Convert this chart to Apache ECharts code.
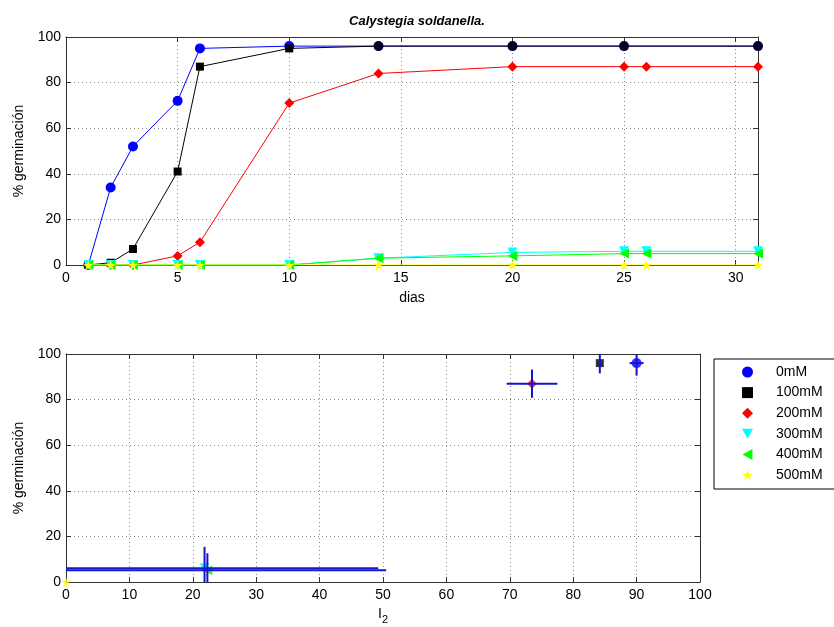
<!DOCTYPE html>
<html><head><meta charset="utf-8">
<script src="https://cdn.jsdelivr.net/npm/echarts@6/dist/echarts.min.js"></script>
<style>html,body{margin:0;padding:0;background:#fff}#c{width:834px;height:627px}</style>
</head><body><div id="c"></div>
<script>
// ---- data ----
var titleText = 'Calystegia soldanella.';
var names = ['0mM','100mM','200mM','300mM','400mM','500mM'];
var daysShort = [1,2,3,5,6,10,14,20,25,31];
var daysLong  = [1,2,3,5,6,10,14,20,25,26,31];
var g0mM   = [0,34,52,72,95,96,96,96,96,96];
var g100mM = [0,1,7,41,87,95,96,96,96,96];
var g200mM = [0,0,0,4,10,71,84,87,87,87,87];
var g300mM = [0,0,0,0,0,0,3,5.5,6,6,6];
var g400mM = [0,0,0,0,0,0,3,4,5,5,5];
var g500mM = [0,0,0,0,0,0,0,0,0,0,0];
// bottom panel: I2 vs final germination with error bars
var l2Vals   = [90, 84.2, 73.5, 21.85, 22.3, 0];
var germVals = [96, 96, 87, 6, 5.2, 0];
var l2Err    = [1.1, 0.3, 4, 27.4, 28.2, 0];
var germErr  = [5.5, 4.5, 6.2, 9.4, 7.4, 0];

// ---- styles ----
var colors = ['#0000ff','#000000','#ff0000','#00ffff','#00ff00','#ffff00'];
var starPath = 'path://M5,0 L6.2,3.6 L10,3.6 L6.9,5.9 L8.1,9.5 L5,7.3 L1.9,9.5 L3.1,5.9 L0,3.6 L3.8,3.6 Z';
var downTri = 'path://M0,0 L10,0 L5,9 Z';
var leftTri = 'path://M9,0 L9,10 L0,5 Z';
var symbols = ['circle','rect', 'diamond', downTri, leftTri, starPath];
var sizes = [10, 8, 10, 10, 10, 10];
var font = 'Liberation Sans, Arial, sans-serif';
var axisCol = '#333';

var chart = echarts.init(document.getElementById('c'));

function pairs(days, vals){ return days.map(function(d,i){ return [d, vals[i]]; }); }
var topVals = [g0mM,g100mM,g200mM,g300mM,g400mM,g500mM];
var topDays = [daysShort,daysShort,daysLong,daysLong,daysLong,daysLong];

var series = [];
for (var s=0;s<6;s++){
  var d = pairs(topDays[s], topVals[s]).map(function(p, i){
    var o = {value:p};
    if (s===0 && g100mM[i]===g0mM[i] && p[0]>=14){ o.itemStyle = {color:'#000033'}; }
    if (s===1 && g100mM[i]===g0mM[i] && p[0]>=14){ o.symbolSize = 0; }
    return o;
  });
  series.push({
    name:names[s], type:'line', xAxisIndex:0, yAxisIndex:0,
    data:d, symbol:symbols[s], symbolSize:sizes[s],
    lineStyle:{color:colors[s], width:1}, itemStyle:{color:colors[s]},
    animation:false, z:2+s
  });
}
for (var s2=0;s2<6;s2++){
  series.push({
    name:names[s2], type:'scatter', xAxisIndex:2, yAxisIndex:2,
    data:[[l2Vals[s2], germVals[s2]]], symbol:symbols[s2], symbolSize:sizes[s2],
    itemStyle:{color:colors[s2]}, animation:false, z:2+s2
  });
}
var errData = l2Vals.map(function(x,i){ return [x, germVals[i], l2Err[i], germErr[i]]; });
series.push({
  type:'custom', xAxisIndex:2, yAxisIndex:2, z:20, animation:false,
  data: errData.filter(function(e){ return e[2]>0 || e[3]>0; }),
  renderItem:function(params, api){
    var x=api.value(0), y=api.value(1), ex=api.value(2), ey=api.value(3);
    function cl(v){ return Math.max(0, Math.min(100, v)); }
    var a=api.coord([cl(x-ex), y]), b=api.coord([cl(x+ex), y]);
    var c=api.coord([x, cl(y-ey)]), d=api.coord([x, cl(y+ey)]);
    var st={stroke:'#1515d0', lineWidth:2};
    return {type:'group', children:[
      {type:'line', shape:{x1:a[0],y1:a[1],x2:b[0],y2:b[1]}, style:st},
      {type:'line', shape:{x1:c[0],y1:c[1],x2:d[0],y2:d[1]}, style:st}
    ]};
  }
});

function xAx(gi, max, name, nameGap, extra){
  return Object.assign({
    type:'value', gridIndex:gi, min:0, max:max, interval: (max===31?5:10),
    name:name, nameLocation:'middle', nameGap:nameGap,
    nameTextStyle:{fontFamily:font, fontSize:14, color:'#000'},
    axisLine:{show:true, onZero:false, lineStyle:{color:axisCol, width:1}},
    axisTick:{show:true, inside:true, length:5, lineStyle:{color:axisCol}},
    axisLabel:{fontFamily:font, fontSize:14, color:'#000', margin:6,
      showMaxLabel: max===100},
    splitLine:{show:true, lineStyle:{color:'#8a8a8a', type:[1,3], width:1}}
  }, extra||{});
}
function yAx(gi){
  return {
    type:'value', gridIndex:gi, min:0, max:100, interval:20,
    name:'% germinación', nameLocation:'middle', nameGap:40,
    nameTextStyle:{fontFamily:font, fontSize:14, color:'#000'},
    axisLine:{show:true, onZero:false, lineStyle:{color:axisCol, width:1}},
    axisTick:{show:true, inside:true, length:5, lineStyle:{color:axisCol}},
    axisLabel:{fontFamily:font, fontSize:14, color:'#000', margin:5},
    splitLine:{show:true, lineStyle:{color:'#8a8a8a', type:[1,3], width:1}}
  };
}
function mirrorX(gi, max){
  return {type:'value', gridIndex:gi, position:'top', min:0, max:max, interval:(max===31?5:10),
    axisLine:{show:true, onZero:false, lineStyle:{color:axisCol}},
    axisTick:{show:true, inside:true, length:5, lineStyle:{color:axisCol}},
    axisLabel:{show:false}, splitLine:{show:false}};
}
function mirrorY(gi){
  return {type:'value', gridIndex:gi, position:'right', min:0, max:100, interval:20,
    axisLine:{show:true, onZero:false, lineStyle:{color:axisCol}},
    axisTick:{show:true, inside:true, length:5, lineStyle:{color:axisCol}},
    axisLabel:{show:false}, splitLine:{show:false}};
}

var legendData = names.map(function(n,i){ return {name:n, icon:symbols[i]}; });

chart.setOption({
  backgroundColor:'#fff',
  animation:false,
  title:{text:titleText, left:412, textAlign:'center', top:10,
    textStyle:{fontFamily:font, fontSize:13, fontWeight:'bold', fontStyle:'italic', color:'#000'}},
  grid:[
    {left:66, top:37, width:692, height:228},
    {left:66, top:354, width:634, height:228}
  ],
  xAxis:[
    xAx(0, 31, 'dias', 26),
    mirrorX(0, 31),
    xAx(1, 100, '{a|I}{b|2}', 22, {nameTextStyle:{fontFamily:font, fontSize:14, color:'#000',
      rich:{a:{fontFamily:font, fontSize:14, color:'#000'}, b:{fontFamily:font, fontSize:11, color:'#000', verticalAlign:'bottom', padding:[10,0,0,0]}}}}),
    mirrorX(1, 100)
  ],
  yAxis:[ yAx(0), mirrorY(0), yAx(1), mirrorY(1) ],
  legend:{
    data:legendData, orient:'vertical', left:714, top:359,
    borderColor:'#000', borderWidth:1, backgroundColor:'#fff',
    padding:[6,40,7,28], itemGap:6.6, itemWidth:11, itemHeight:11,
    selectedMode:false,
    textStyle:{fontFamily:font, fontSize:14, color:'#000', padding:[0,0,0,18]}
  },
  series:series
});
</script></body></html>
